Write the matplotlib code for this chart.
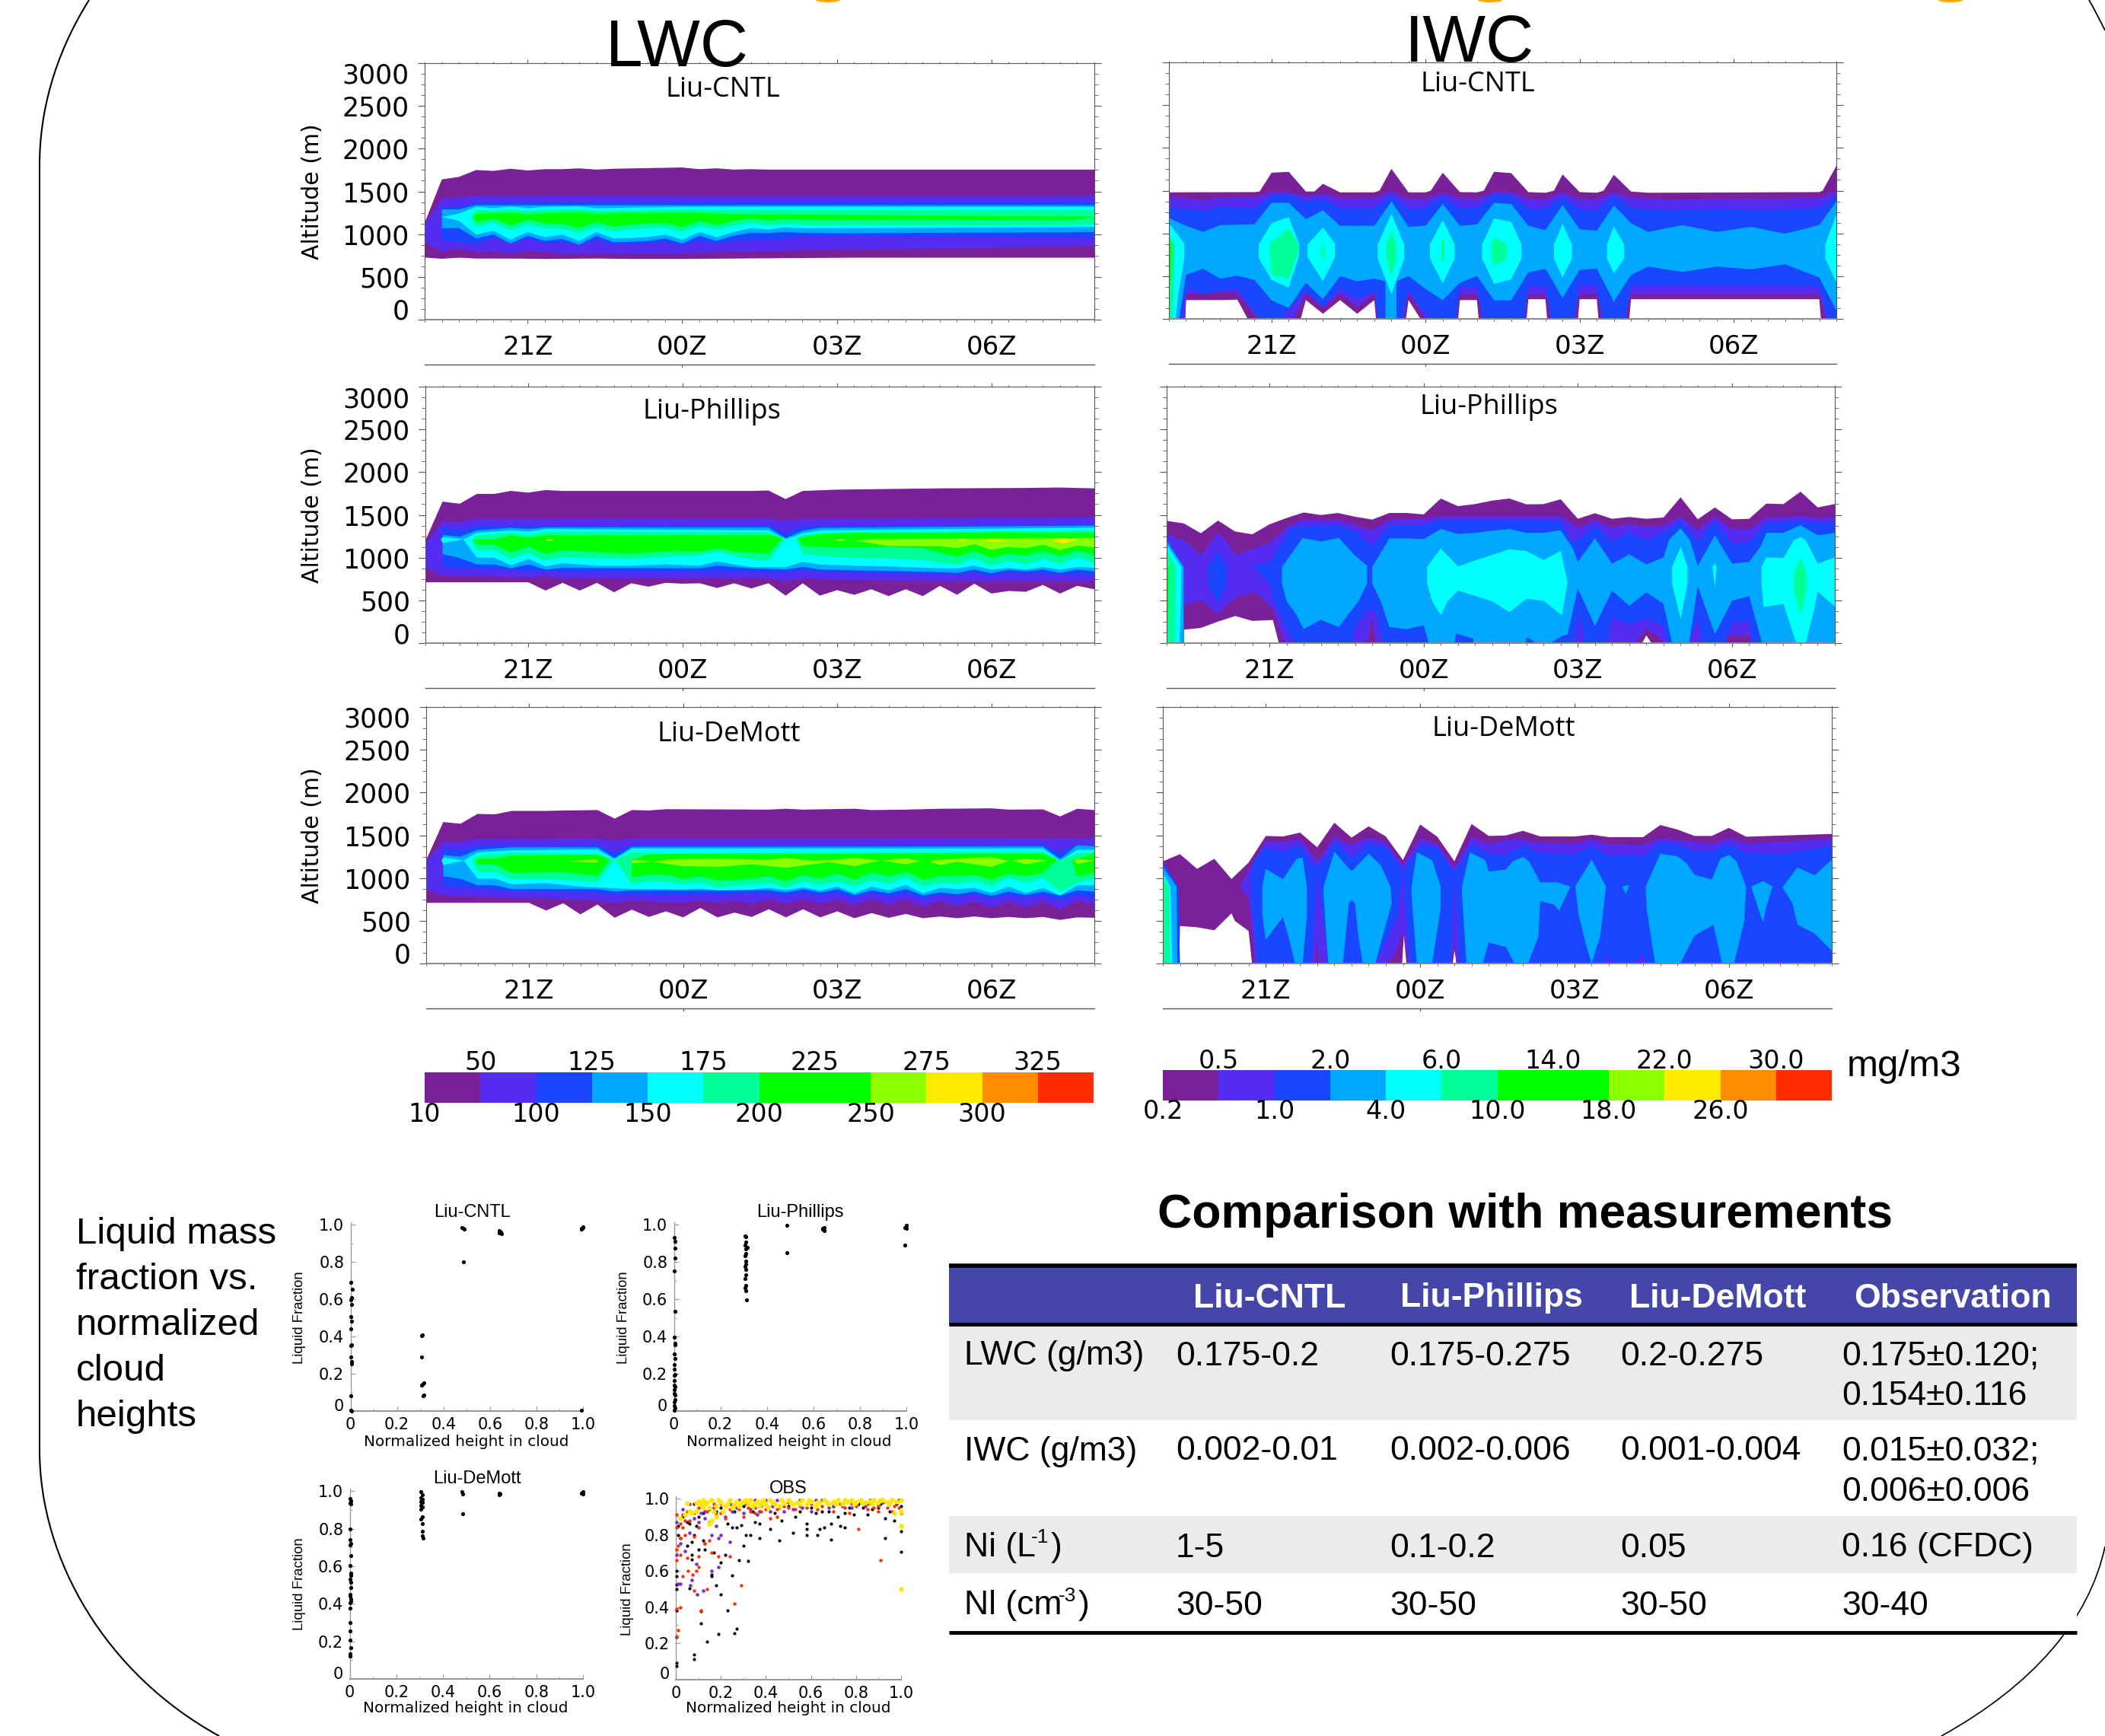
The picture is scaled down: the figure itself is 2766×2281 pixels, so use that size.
import numpy as np
import matplotlib
matplotlib.use("Agg")
import matplotlib.pyplot as plt
from matplotlib.colors import ListedColormap
from matplotlib.path import Path
from matplotlib.patches import PathPatch, Rectangle, Ellipse

W, H = 2766, 2281
SANS = 'Liberation Sans'
WIDE = 'DejaVu Sans'
HUMAN = 'Open Sans'

COLORS = ['#7A2098', '#552DF0', '#1946FF', '#00A8FF', '#00FFFF', '#00FF96',
          '#00FF00', '#00FF00', '#8CFF00', '#FFEB00', '#FF8C00', '#FF2D00']
LWC_BOTTOM_LABELS = ['10', '100', '150', '200', '250', '300']
LWC_TOP_LABELS = ['50', '125', '175', '225', '275', '325']
IWC_BOTTOM_LABELS = ['0.2', '1.0', '4.0', '10.0', '18.0', '26.0']
IWC_TOP_LABELS = ['0.5', '2.0', '6.0', '14.0', '22.0', '30.0']
TIME_LABELS = ['21Z', '00Z', '03Z', '06Z']
TIME_COLUMNS = [6, 15, 24, 33]   # 20-min model output columns, 19Z = column 0
ALT_TICKS = [0, 500, 1000, 1500, 2000, 2500, 3000]


def col(start, *vals):
    return [(start + k, v) for k, v in enumerate(vals)]


def band(level, top, bot):
    return (level, top + bot[::-1])


# ---------- LWC contour regions: (column, altitude m) ----------
LWC_CNTL = [
    band(0, [(0, 1130)] + col(1, 1640, 1670, 1750, 1740, 1765, 1745, 1760, 1760, 1770, 1755, 1765) + [(15, 1780), (16, 1760), (17, 1770), (18, 1755), (19, 1760), (20, 1755), (39, 1755)],
         [(0, 727), (1, 712), (2, 725), (3, 715), (5, 715), (7, 710), (10, 715), (12, 710), (15, 710), (18, 715), (25, 725), (39, 725)]),
    band(1, [(0, 1110), (1, 1415), (2, 1425), (3, 1450), (39, 1450)],
         [(0, 905), (1, 800), (2, 830), (3, 790), (4, 800), (5, 770), (6, 800), (7, 790), (8, 770), (12, 770), (15, 770), (17, 790), (20, 800), (22, 815), (30, 830), (39, 865)]),
    band(2, [(1, 1310), (2, 1320), (3, 1375), (39, 1380)],
         [(1, 935), (2, 905), (3, 875), (4, 960), (5, 885), (6, 950), (7, 890), (8, 905), (9, 875), (10, 935), (11, 885), (13, 890), (14, 905), (15, 875), (16, 920), (17, 890), (18, 920), (21, 950), (22, 979), (24, 980), (39, 964)]),
    band(3, [(1, 1290), (2, 1290), (3, 1340), (39, 1340)],
         [(1, 1070), (2, 1070)] + col(3, 950, 995, 890, 980, 920, 945, 875, 980, 905, 910, 920, 950, 890, 980, 920, 980, 1015, 1010, 1025, 1015) + [(24, 1010), (39, 1025)]),
    band(4, [(1, 1200), (2, 1240), (3, 1320), (4, 1305), (5, 1325), (6, 1305), (7, 1320), (9, 1325), (10, 1305), (15, 1320), (39, 1320)],
         [(1, 1200), (2, 1157)] + col(3, 995, 1040, 935, 1025, 965, 995, 920, 1025, 950, 955, 965, 995, 935, 1025, 965, 1025, 1070, 1055, 1080, 1070) + [(24, 1070), (39, 1085)]),
    band(5, [(2.7, 1200), (3, 1290), (4, 1270), (5, 1290), (6, 1270), (7, 1285), (9, 1290), (10, 1270), (15, 1285), (39, 1280)],
         [(2.7, 1200)] + col(3, 1085, 1135, 1045, 1110, 1070, 1065, 1015, 1085, 1030, 1055, 1070, 1075, 1025, 1100, 1055, 1100, 1130, 1105, 1120, 1110) + [(24, 1110), (39, 1110)]),
    band(6, [(2.8, 1200), (3, 1240), (5, 1250), (6, 1235), (7, 1245), (9, 1260), (10, 1240), (15, 1255), (18, 1235), (24, 1225), (39, 1205)],
         [(2.8, 1200)] + col(3, 1140, 1185, 1100, 1170, 1125, 1120, 1075, 1140, 1090, 1110, 1125, 1130, 1080, 1155, 1110, 1155, 1185, 1160, 1180, 1170) + [(24, 1170), (38, 1170), (39, 1200)]),
]

LWC_PHILLIPS = [
    band(0, col(0, 1200, 1655, 1630, 1745, 1745, 1780, 1760, 1790, 1780) + [(19, 1780), (20, 1785), (21, 1685), (22, 1780), (24, 1795), (30, 1810), (35, 1815), (37, 1820), (39, 1810)],
         col(0, 712) + [(6, 712)] + col(7, 615, 705, 615, 705, 595, 700, 660, 705, 695, 700, 645, 700, 640, 700, 555, 700, 555, 620, 565, 630, 550, 630, 550, 670, 565, 695, 580, 610, 600, 680, 580, 670, 630)),
    band(1, [(0, 1150), (1, 1425), (2, 1415), (3, 1455), (20, 1460), (21, 1430), (22, 1455), (39, 1470)],
         [(0, 885), (1, 790), (3, 785), (6, 770), (7, 785), (8, 755), (20, 755), (21, 725), (22, 755), (24, 740), (30, 725), (39, 725)]),
    band(2, [(1, 1350), (2, 1320), (3, 1370), (20, 1380), (21, 1275), (22, 1370), (39, 1395)],
         [(1, 890), (2, 875), (3, 870), (5, 860), (6, 835), (7, 850), (8, 830), (20, 830), (21, 825), (22, 850), (23, 830), (30, 810), (31, 800), (32, 825), (33, 790), (34, 820), (39, 800)]),
    band(3, [(1, 1265), (2, 1245), (3, 1320), (5, 1350), (6, 1335), (7, 1355), (20, 1355), (21, 1230), (22, 1315), (23, 1350), (39, 1375)],
         col(1, 1040, 995, 920, 920, 875, 920, 860, 880) + [(16, 875), (17, 905), (18, 890), (19, 875), (21, 860), (22, 890), (23, 860)] + col(30, 830, 820, 860, 815, 860, 840, 860, 820, 860, 840)),
    band(4, [(2.2, 1215), (3, 1290), (5, 1320), (6, 1305), (7, 1335), (20, 1320), (21, 1215), (22, 1285), (23, 1320), (39, 1350)],
         [(2.2, 1215), (3, 1000), (4, 1000), (5, 910), (6, 985), (7, 895), (8, 935), (10, 905), (12, 905), (14, 920), (16, 905), (17, 955), (18, 920), (19, 890), (21, 890), (22, 950), (23, 920), (25, 905), (28, 890), (30, 875), (31, 875), (32, 905), (33, 860), (34, 880), (35, 860), (36, 890), (37, 860), (38, 890), (39, 880)]),
    (4, [(0.9, 1215), (1, 1240), (2.2, 1215), (1, 1170)]),
    band(5, [(2.7, 1205), (3, 1260), (5, 1290), (6, 1265), (7, 1305), (20, 1295), (21, 1225)],
         [(2.7, 1205), (3, 1085), (4, 1085), (5, 985), (6, 1055), (7, 965), (8, 1005), (12, 985), (14, 1010), (16, 1025), (17, 1070), (19, 980), (20, 960), (21, 1225)]),
    band(5, [(21.6, 1225), (22, 1265), (24, 1290), (39, 1320)],
         [(21.6, 1225), (22, 1040), (23, 1020), (25, 1000), (27, 990), (29, 970), (31, 920), (32, 995), (33, 905), (34, 965), (35, 920), (36, 985), (37, 930), (38, 1005), (39, 935)]),
    band(6, [(2.8, 1205), (3, 1215), (4, 1215), (5, 1260), (6, 1235), (7, 1260), (12, 1260), (20, 1265), (20.8, 1230)],
         [(2.8, 1205), (3, 1155), (4, 1155), (5, 1060), (6, 1130), (7, 1040), (8, 1085), (12, 1045), (14, 1075), (16, 1070), (17, 1110), (18, 1070), (20, 1045), (20.8, 1230)]),
    band(6, [(21.7, 1225), (23, 1275), (25, 1290), (39, 1290)],
         [(21.7, 1225), (22, 1140), (23, 1125), (25, 1120), (27, 1125), (29, 1110), (31, 1010), (32, 1080), (33, 995), (34, 1045), (35, 1025), (36, 1075), (37, 1015), (38, 1085), (39, 1025)]),
    band(8, [(25, 1200), (26, 1215), (39, 1230)],
         [(25, 1200), (27, 1135), (30, 1135), (31, 1110), (32, 1155), (33, 1090), (34, 1125), (35, 1110), (36, 1150), (37, 1090), (38, 1140), (39, 1120)]),
    (9, [(32.5, 1200), (33, 1215), (34, 1205), (33.3, 1185)]),
    (9, [(36.5, 1205), (37, 1225), (38, 1210), (37.2, 1165)]),
    (9, [(7, 1205), (7.2, 1215), (7.5, 1205), (7.2, 1195)]),
    (9, [(23.7, 1205), (24.2, 1215), (24.7, 1205), (24.2, 1198)]),
    (9, [(31, 1205), (31.3, 1215), (31.6, 1205), (31.3, 1195)]),
]

LWC_DEMOTT = [
    band(0, col(0, 1210, 1655, 1635, 1750, 1745, 1785, 1785, 1785, 1790, 1792, 1795, 1695, 1795, 1790, 1805) + [(20, 1800), (21, 1810), (22, 1800), (25, 1810), (26, 1795), (28, 1800), (30, 1810), (33, 1815), (34, 1800), (36, 1803), (37, 1720), (38, 1810), (39, 1795)],
         col(0, 710) + [(6, 710)] + col(7, 620, 705, 575, 690, 535, 630, 545, 610, 540, 650, 540, 595, 545, 635, 540, 635, 540, 610, 530, 590, 535, 580, 530, 550, 530, 550, 530, 545, 530, 545, 510, 540, 535)),
    band(1, [(0, 1190), (1, 1430), (2, 1420), (3, 1460), (10, 1465), (11, 1435), (12, 1465), (39, 1465)],
         [(0, 860), (1, 795), (3, 780), (6, 760), (7, 760), (10, 735), (11, 705), (12, 735), (14, 715), (15, 715), (16, 735), (17, 715), (18, 735), (19, 705), (20, 750), (21, 700), (22, 750), (23, 700), (24, 745), (25, 685), (26, 750), (27, 695), (28, 750), (29, 670), (30, 730), (31, 670), (32, 725), (33, 650), (34, 725), (35, 660), (36, 725), (37, 630), (38, 735), (39, 685)]),
    band(2, [(1, 1345), (2, 1330), (3, 1375), (10, 1385), (11, 1300), (12, 1385), (36, 1390), (37, 1300), (38, 1395), (39, 1375)],
         [(1, 900), (2, 890), (3, 870), (6, 840), (10, 825), (11, 800), (12, 810), (14, 800), (20, 820), (21, 795), (22, 825), (23, 795), (24, 825), (25, 770), (26, 825), (27, 790), (28, 825), (29, 760), (30, 810), (31, 780), (32, 810), (33, 760), (34, 800), (35, 770), (36, 800), (37, 740), (38, 800), (39, 770)]),
    band(3, [(1, 1270), (2, 1250), (3, 1330), (5, 1360), (10, 1360), (11, 1235), (12, 1365), (36, 1370), (37, 1225), (38, 1385), (39, 1370)],
         [(1, 1020), (2, 990), (3, 915), (4, 915), (5, 870), (10, 870), (11, 840), (12, 855), (20, 860), (21, 830), (22, 870), (23, 830), (24, 870), (25, 800), (26, 855), (27, 820), (28, 870), (29, 795), (30, 830), (31, 810), (32, 840), (33, 790), (34, 840), (35, 800), (36, 840), (37, 795), (38, 855), (39, 840)]),
    (4, [(0.9, 1205), (1, 1240), (2.2, 1205), (1, 1150)]),
    band(4, [(2.2, 1205), (3, 1300), (5, 1325), (10, 1335), (11, 1220), (12, 1345), (36, 1345), (37, 1205), (38, 1330), (39, 1330)],
         [(2.2, 1205), (3, 990), (4, 995), (5, 925), (6, 935), (7, 940), (9, 900), (10, 890), (12, 870), (14, 870), (15, 865), (16, 875), (17, 855), (18, 860), (19, 865), (20, 885), (21, 860), (22, 890), (23, 855), (24, 900), (25, 820), (26, 900), (27, 855), (28, 920), (29, 820), (30, 885), (31, 870), (32, 885), (33, 825), (34, 900), (35, 825), (36, 885), (37, 795), (38, 915), (39, 915)]),
    band(5, [(2.7, 1210), (3, 1265), (5, 1295), (10, 1280), (11, 1220)],
         [(2.7, 1210), (3, 1070), (4, 1070), (5, 990), (7, 990), (9, 970), (10, 950), (11, 1220)]),
    band(5, [(11, 1220), (12, 1300), (13, 1290), (36, 1305), (37, 1205), (38, 1290), (39, 1300)],
         [(11, 1220)] + col(12, 930, 965, 960, 930, 945, 890, 915, 925, 945, 885, 960, 915, 960, 900, 975, 930, 1005, 900, 945, 930, 970, 900, 1005, 940, 1005, 840, 945, 990)),
    band(6, [(2.9, 1210), (3, 1225), (4, 1225), (5, 1265), (10, 1275), (10.7, 1210)],
         [(2.9, 1210), (3, 1160), (4, 1160), (5, 1060), (8, 1070), (10, 1025), (10.7, 1210)]),
    band(6, [(12, 1210), (13, 1280), (36, 1285), (36.8, 1210)],
         [(12, 1210)] + col(12, 1005, 1040, 1040, 990, 1020, 970, 980, 995, 1020, 960, 1035, 995, 1050, 980, 1065, 1020, 1070, 980, 1020, 1020, 1035, 980, 1050, 1020, 1060) + [(36.8, 1210)]),
    (6, [(37.7, 1210), (38, 1225), (39, 1285), (39, 1060), (38, 1020)]),
    (8, [(8.2, 1195), (9.5, 1215), (10, 1215), (10, 1180)]),
    (8, [(12, 1210), (12.3, 1210), (13.2, 1195), (12, 1170)]),
    (8, [(13.2, 1195), (14.5, 1220), (17, 1225), (20, 1215), (21, 1235), (22.5, 1205), (24, 1215), (25, 1235), (26.5, 1205), (25, 1140), (23.5, 1185), (21, 1120), (19, 1160), (17, 1130), (15, 1140), (14, 1165)]),
    (8, [(26.6, 1205), (28, 1230), (28.9, 1200), (28, 1160)]),
    (8, [(29.3, 1200), (30, 1215), (33, 1245), (34, 1200), (33, 1130), (31, 1190), (30, 1150)]),
    (8, [(34.2, 1205), (35, 1225), (36.2, 1205), (35, 1160)]),
    (8, [(37.8, 1200), (38, 1225), (39, 1205), (38, 1165)]),
]

# ---------- IWC contour regions: (column, altitude m) ----------
IWC_CNTL = [
    (0, [(0, 1480), (5, 1483), (5.3, 1490), (6, 1710), (7, 1720), (8, 1490), (8.5, 1490), (9, 1580), (10, 1480), (12, 1480), (12.3, 1500), (13, 1755), (14, 1480), (15, 1480), (15.3, 1500), (16, 1710), (17, 1483), (18, 1480), (18.4, 1500), (19, 1720), (20, 1705), (21, 1483), (22, 1475), (22.5, 1500), (23, 1690), (24, 1483), (25, 1475), (25.4, 1500), (26, 1685), (27, 1490), (28, 1475), (38, 1483), (38.2, 1500), (39, 1790),
         (39, 0), (38.1, 0), (38, 230), (27, 230), (26.9, 0), (25.1, 0), (25, 230), (24, 230), (23.9, 0), (22.1, 0), (22, 230), (21, 230), (20.9, 0), (18.1, 0), (18, 220), (17, 220), (16.9, 0), (14.7, 0), (14, 220), (13.85, 0), (12.1, 0), (12, 220), (11, 60), (10, 220), (9, 60), (8, 220), (7.7, 0), (4.6, 0), (4, 225), (3, 220), (1, 220), (0.95, 0), (0, 0)]),
    (1, [(0, 1424), (2, 1389), (3, 1418), (5, 1418), (6, 1484), (7, 1484), (8, 1433), (9, 1463), (10, 1409), (12, 1409), (13, 1492), (14, 1403), (15, 1403), (16, 1478), (17, 1412), (18, 1403), (19, 1486), (20, 1478), (21, 1403), (22, 1397), (23, 1478), (24, 1403), (25, 1397), (26, 1478), (27, 1418), (29, 1397), (32, 1403), (35, 1403), (38, 1418), (39, 1492),
         (39, 0), (38.4, 0), (38, 290), (27, 290), (26.6, 0), (25.4, 0), (25, 295), (24, 295), (23.6, 0), (22.4, 0), (22, 290), (21, 290), (20.6, 0), (18.4, 0), (18, 290), (17, 290), (16.6, 0), (15, 0), (14, 300), (13.6, 0), (12.4, 0), (12, 300), (11, 140), (10, 300), (9, 130), (8, 300), (7.3, 0), (5.2, 0), (4, 300), (3, 310), (2, 295), (1, 290), (0.95, 0), (0, 0)]),
    (2, [(0, 1308), (2, 1264), (3, 1308), (5, 1294), (6, 1448), (7, 1454), (8, 1374), (9, 1403), (10, 1294), (12, 1294), (13, 1448), (14, 1285), (15, 1300), (16, 1433), (17, 1300), (18, 1300), (19, 1463), (20, 1448), (21, 1294), (22, 1285), (23, 1433), (24, 1285), (25, 1270), (26, 1448), (27, 1300), (29, 1270), (32, 1285), (35, 1270), (38, 1300), (39, 1448),
         (39, 0), (38.5, 0), (38, 380), (27, 385), (26.7, 0), (25.3, 0), (25, 395), (24, 395), (23.7, 0), (22.3, 0), (22, 380), (21, 380), (20.8, 0), (18.3, 0), (18, 365), (17, 365), (16.8, 0), (15.2, 0), (14, 335), (13.7, 0), (12.2, 0), (12, 320), (11, 230), (10, 350), (9, 140), (8, 320), (7.4, 200), (6.6, 0), (5.3, 0), (4, 350), (3, 330), (2, 290), (1.2, 360), (1, 300), (0.75, 0), (0, 0)]),
    (3, [(0, 1180), (1, 1090), (2, 1017), (3, 1097), (5, 1106), (6, 1358), (7, 1358), (8, 1166), (9, 1270), (10, 1090), (12, 1090), (13, 1374), (14, 1077), (15, 1090), (16, 1344), (17, 1090), (18, 1106), (19, 1358), (20, 1344), (21, 1090), (22, 1038), (23, 1335), (24, 1047), (25, 1032), (26, 1329), (27, 1121), (28, 1017), (30, 1097), (32, 1017), (34, 1077), (36, 997), (38, 1097), (39, 1374),
         (39, 100), (38, 484), (36, 638), (34, 579), (32, 611), (30, 549), (28, 611), (27, 513), (26, 202), (25, 587), (24, 573), (23, 246), (22, 587), (21, 543), (20, 217), (19, 217), (18, 500), (17, 424), (16, 217), (15, 350), (14, 500), (13.3, 440), (13.3, 0), (12.65, 0), (12.65, 440), (12, 470), (11, 440), (10, 500), (9, 230), (8, 424), (7, 128), (6, 217), (5, 455), (4, 505), (3, 470), (2, 587), (1, 515), (0.6, 0), (0, 0)]),
    (4, [(0, 1120), (0.9, 880), (0.9, 705), (0.55, 290), (0.4, 0), (0, 0)]),
    (4, [(5.25, 870), (6, 1120), (7, 1190), (7.6, 880), (7.6, 735), (7, 365), (6, 455), (5.25, 710)]),
    (4, [(8.1, 870), (9, 1070), (9.7, 880), (9.7, 720), (9, 440), (8.1, 720)]),
    (4, [(12.2, 870), (13, 1230), (13.75, 870), (13.75, 705), (13, 290), (12.2, 705)]),
    (4, [(15.25, 870), (16, 1157), (16.7, 870), (16.7, 705), (16, 415), (15.25, 705)]),
    (4, [(18.3, 870), (19, 1175), (20, 1135), (20.6, 870), (20.6, 705), (20, 463), (19, 410), (18.3, 705)]),
    (4, [(22.5, 870), (23, 1115), (23.55, 870), (23.55, 705), (23, 483), (22.5, 705)]),
    (4, [(25.6, 870), (26, 1083), (26.6, 870), (26.6, 705), (26, 534), (25.6, 705)]),
    (4, [(39, 1225), (38.35, 870), (38.35, 705), (39, 425)]),
    (5, [(0, 990), (0.35, 870), (0.35, 705), (0.2, 0), (0, 0)]),
    (5, [(5.9, 885), (7, 1060), (7.55, 880), (7.55, 765), (7, 470), (6, 520), (5.9, 770)]),
    (5, [(8.9, 790), (9, 900), (9.15, 790), (9, 660)]),
    (5, [(12.7, 870), (13, 1026), (13.3, 870), (13.3, 705), (13, 498), (12.7, 705)]),
    (5, [(15.9, 930), (16.1, 930), (16.1, 675), (15.9, 675)]),
    (5, [(18.85, 870), (19, 958), (19.75, 870), (19.75, 705), (19, 617), (18.85, 705)]),
    (6, [(0, 970), (0.15, 870), (0.1, 470), (0, 320)]),
]

IWC_PHILLIPS = [
    (0, col(0, 1430, 1400, 1285, 1433, 1305, 1273, 1389, 1463, 1528, 1498, 1522, 1478, 1445, 1522, 1522, 1505, 1691, 1602, 1626, 1667, 1691, 1623, 1626, 1682, 1454, 1519, 1454, 1475, 1454, 1469, 1706, 1448, 1587, 1448, 1454, 1632, 1626, 1771, 1587, 1626)
        + [(39, 0), (28.3, 0), (28, 90), (27.75, 0), (6.55, 0), (6.2, 270), (5, 260), (4, 317), (3, 252), (2, 178), (1, 157), (1, 0), (0, 0)]),
    (1, [(0, 1275), (1, 1207), (2, 1023), (3, 1290), (3.5, 1200), (4, 1030), (5, 1098), (6, 1172), (7, 1355), (8, 1445), (10, 1439), (12, 1320), (13, 1445), (15, 1454), (16, 1483), (20, 1483), (23, 1483), (24, 1350), (25, 1439), (26, 1350), (27, 1392), (28, 1356), (29, 1374), (30, 1483), (31, 1320), (32, 1483), (33, 1335), (34, 1335), (35, 1469), (36, 1469), (37, 1492), (38, 1463), (39, 1469),
         (39, 0), (34.1, 0), (34, 90), (32.8, 90), (32.6, 0), (29, 0), (28.9, 40), (28, 170), (27.5, 40), (27.4, 0), (12.2, 0), (12, 300), (11.7, 0), (6.9, 0), (6.2, 400), (5.2, 593), (5, 593), (4, 534), (3, 341), (2, 495), (1, 445), (0.95, 0), (0, 0)]),
    (2, [(2.4, 890), (3, 1077), (3.5, 890), (3.5, 697), (3, 466), (2.4, 697)]),
    (2, [(0, 1230), (1, 900), (1, 0), (0, 0)]),
    (2, [(5, 900), (6, 940), (7.3, 1365), (8, 1374), (10, 1380), (11, 1305), (12, 1136), (13, 1380), (15, 1380), (16, 1439), (20, 1439), (23, 1430), (23.7, 1172), (24, 1208), (25, 1380), (26, 1187), (27, 1290), (28, 1207), (29, 1290), (30, 1430), (31, 1202), (32, 1424), (33, 1163), (34, 1181), (35, 1409), (36, 1415), (37, 1440), (38, 1403), (39, 1409),
         (39, 0), (34.2, 0), (34, 250), (33, 250), (32.6, 0), (31.3, 0), (31, 280), (30.4, 0), (29.2, 0), (29, 210), (28, 282), (27, 222), (26, 300), (25.7, 0), (24.4, 0), (24.1, 326), (23.8, 0), (12.65, 0), (12.2, 380), (11.7, 390), (11, 180), (10.85, 0), (7.5, 0), (7.2, 100), (6.2, 520), (6, 700), (5, 900)]),
    (3, [(0, 1200), (1, 890), (1, 0), (0, 0)]),
    (3, [(6.73, 890), (7.94, 1231), (9, 1187), (10.04, 1231), (11, 1024), (11.7, 905), (11.7, 697), (11.2, 490), (10.04, 187), (9, 273), (8, 163), (7.54, 341), (7, 490), (6.73, 697)]),
    (3, [(12, 890), (13, 1225), (14, 1225), (15, 1216), (16, 1335), (17, 1276), (18, 1290), (19, 1314), (20, 1335), (21, 1290), (22, 1290), (23, 1320), (23.7, 1113), (24, 950), (25, 1225), (26, 929), (27, 1038), (28, 920), (29, 1003), (29.35, 1216), (30, 1344), (30.55, 1202), (31, 905), (32, 1261), (33, 929), (34, 950), (34.7, 1140), (35, 1290), (36, 1290), (37, 1380), (38, 1261), (39, 1290),
         (39, 0), (34.75, 0), (34, 549), (33, 495), (32, 104), (31, 667), (30.5, 0), (29.5, 0), (29, 460), (28, 593), (27, 436), (26, 614), (25, 199), (24, 640), (23.4, 100), (23.1, 85), (22.4, 0), (21.55, 0), (21.2, 50), (21, 68), (20.95, 0), (17.9, 0), (17.9, 50), (16.9, 113), (16.8, 0), (15.3, 0), (15, 208), (14, 163), (13, 187), (12.5, 490), (12, 697)]),
    (4, [(0, 1150), (0.85, 890), (0.85, 700), (0.75, 0), (0, 0)]),
    (4, [(15.2, 890), (16, 1107), (17, 899), (20, 1098), (21, 1077), (22, 970), (23, 1077), (23.4, 712), (23.07, 326), (22, 495), (21, 519), (20, 362), (19, 490), (17, 614), (16.4, 490), (16, 326), (15.5, 490), (15.2, 700)]),
    (4, [(29.5, 890), (30, 1127), (30.4, 890), (30.4, 697), (30, 282), (29.5, 697)]),
    (4, [(31.85, 890), (32, 935), (32.1, 890), (32, 655), (31.9, 800)]),
    (4, [(34.72, 890), (35, 1003), (36, 994), (36.6, 1202), (37, 1240), (37.3, 1202), (38, 929), (39, 1003), (39, 430), (38, 602), (37.8, 400), (37.3, 0), (36.75, 0), (36, 460), (34.85, 421), (34.72, 697)]),
    (5, [(0, 1100), (0.55, 890), (0.55, 700), (0.45, 0), (0, 0)]),
    (5, [(36.6, 815), (37, 1009), (37.35, 815), (37.35, 608), (37, 326), (36.6, 608)]),
    (6, [(0, 900), (0.12, 890), (0.08, 300), (0, 250)]),
]

IWC_DEMOTT = [
    (0, col(0, 1195, 1279, 1107, 1225, 988, 1181, 1492, 1486, 1531, 1359, 1647, 1472, 1605, 1486, 1210, 1626, 1483, 1196, 1632, 1492, 1498, 1552, 1486) + [(24, 1486), (25, 1507), (26, 1478), (28, 1478), (29, 1620), (30, 1567), (31, 1492), (32, 1492), (33, 1587), (34, 1483), (39, 1516),
         (39, 0), (17.15, 0), (17, 150), (16.9, 0), (14.2, 0), (14.05, 330), (13.95, 0), (5.2, 0), (5, 380), (4.2, 498), (4, 587), (3.6, 507), (3, 389), (2, 424), (1, 439), (0.95, 0), (0, 0)]),
    (1, [(4.5, 899), (5, 1092), (6, 1433), (7, 1418), (8, 1454), (9, 1196), (10, 1478), (11, 1389), (12, 1472), (13, 1418), (14, 1151), (15, 1472), (16, 1389), (17, 1122), (18, 1478), (19, 1394), (20, 1448), (21, 1448), (22, 1412), (24, 1403), (25, 1454), (26, 1394), (28, 1389), (29, 1469), (32, 1394), (33, 1472), (34, 1403), (39, 1454),
         (39, 0), (17.1, 0), (17, 250), (16.8, 0), (14.3, 0), (14, 380), (13.5, 90), (13, 0), (9.15, 0), (9, 250), (8.85, 0), (5.4, 0), (5, 750)]),
    (2, [(5.1, 1000), (5.3, 1210), (6, 1353), (7, 1308), (8, 1380), (8.9, 1122), (9.5, 1250), (10, 1433), (11, 1240), (12, 1403), (13, 1359), (13.8, 1151), (14, 1050), (14.2, 1151), (15, 1380), (16, 1359), (17, 1062), (18, 1389), (19, 1285), (20, 1270), (21, 1389), (22, 1290), (24, 1276), (25, 1374), (26, 1255), (27, 1270), (28, 1255), (29, 1418), (30, 1389), (31, 1314), (32, 1314), (33, 1397), (34, 1294), (36, 1276), (39, 1380),
         (39, 0), (36.2, 0), (36, 50), (35.9, 0), (28.2, 0), (28, 120), (27.5, 0), (26.4, 0), (26, 100), (25.8, 0), (17.3, 0), (17, 1060), (16.8, 0), (14.4, 0), (14, 1090), (13.7, 560), (13, 240), (12.4, 0), (9.65, 0), (9, 1050), (8.7, 0), (5.5, 0)]),
    (2, [(0, 1190), (0.9, 900), (1.0, 0), (0, 0)]),
    (3, [(0, 1130), (0.8, 900), (0.85, 0), (0, 0)]),
    (3, [(5.8, 900), (6, 1107), (7, 988), (7.8, 1225), (8.15, 1240), (8.4, 900), (8.4, 550), (8.15, 0), (7.7, 0), (7.4, 260), (7, 543), (6, 276), (5.8, 560)]),
    (3, [(9.37, 900), (10, 1308), (11, 1077), (12, 1285), (12.7, 1151), (13.27, 900), (13.35, 706), (12.65, 200), (12.4, 0), (11.65, 0), (11.4, 320), (11.2, 706), (11, 742), (10.85, 706), (10.5, 0), (9.64, 0), (9.37, 800)]),
    (3, [(14.5, 900), (14.8, 1300), (15.7, 1210), (16.2, 900), (16.2, 650), (15.7, 0), (14.8, 0), (14.5, 800)]),
    (3, [(17.44, 900), (17.9, 1300), (18.8, 1210), (19, 1077), (20, 1100), (20.4, 1196), (21, 1246), (21.35, 1196), (22, 950), (23, 950), (23.77, 900), (23.1, 617), (22.8, 691), (22, 730), (21.9, 320), (21.3, 0), (20.5, 0), (20, 193), (19, 246), (18.65, 0), (17.7, 0), (17.44, 800)]),
    (3, [(24.04, 900), (25, 1216), (25.84, 900), (25.5, 320), (25, 0), (24.7, 200), (24.25, 558)]),
    (3, [(26.8, 900), (27, 915), (27.2, 915), (27, 810)]),
    (3, [(28.15, 900), (29, 1285), (30, 1255), (30.5, 1181), (31, 1038), (32, 982), (32.5, 1225), (33, 1270), (33.45, 1196), (34, 900), (33.9, 498), (33.3, 0), (32.6, 0), (32.1, 454), (31, 326), (30.17, 0), (28.7, 0), (28.2, 645)]),
    (3, [(34.3, 900), (35, 964), (35.55, 900), (35.2, 676), (35, 484), (34.85, 558)]),
    (3, [(36.15, 900), (37, 1122), (38, 1032), (39, 1216), (39, 148), (38, 350), (37, 454), (36.7, 706), (36.15, 880)]),
    (4, [(0, 1050), (0.45, 900), (0.55, 0), (0, 0)]),
    (5, [(0, 1000), (0.35, 900), (0.4, 0), (0, 0)]),
]

# ---------- liquid-fraction scatter: normalized height, fraction ----------
CNTL_X = [.002, .007, .004, .002, .005, .0, .005, .0, .004, .002, .0, .005, .006, .002, .0, .004,
          .305, .31, .305, .305, .315, .31, .312, .315, .485, .49, .48, .485, .645, .64, .65, .64, 1.0, .995, 1.0, .995, .995]
CNTL_Y = [.69, .655, .61, .595, .57, .505, .48, .44, .355, .35, .29, .265, .255, .08, .005, .0,
          .405, .41, .29, .14, .15, .145, .08, .085, .98, .975, .985, .8, .96, .97, .95, .955, .99, .98, .985, .975, .005]
PHIL_X = [.0, .005, .004, .006, .0, .004, .0, .005, .006, .0, .005, .002, .0, .004, .0, .002, .0, .006, .002, .0, .005, .004, .0, .002, .005, .0,
          .305, .31, .31, .305, .315, .31, .31, .305, .31, .31, .305, .31, .31, .305, .31, .305, .31, .312, .485, .485, .64, .645, .64, .645, 1.0, .995, 1.0, .995]
PHIL_Y = [.93, .91, .875, .82, .75, .535, .395, .365, .355, .305, .28, .25, .225, .195, .19, .165, .14, .13, .115, .095, .085, .06, .05, .03, .015, .005,
          .94, .935, .905, .89, .88, .87, .845, .835, .805, .79, .775, .76, .73, .71, .675, .66, .645, .595, .995, .85, .98, .985, .975, .97, .995, .985, .98, .89]
DEM_X = [.002, .006, .0, .006, .002, .0, .004, .0, .004, .0, .004, .006, .0, .004, .004, .0, .002, .004, .006, .002, .0, .002, .0, .002, .004, .0, .002,
         .305, .31, .305, .31, .305, .31, .305, .31, .305, .31, .305, .31, .31, .31, .315, .48, .485, .485, .64, .645, .64, 1.0, .995, 1.0]
DEM_Y = [.96, .95, .935, .93, .80, .74, .72, .715, .655, .605, .565, .55, .53, .515, .485, .45, .44, .425, .415, .405, .375, .30, .255, .205, .165, .135, .12,
         .995, .98, .965, .955, .945, .94, .925, .915, .905, .865, .85, .825, .785, .76, .75, .995, .985, .88, .99, .985, .98, .995, .99, .985]

OBS_BLACK = [(.005, .075), (.005, .09), (.08, .11), (.08, .135), (.14, .21), (.19, .25), (.26, .255), (.27, .28), (.005, .235), (.11, .31), (.11, .375), (.23, .38), (.005, .38), (.2, .47), (.005, .5), (.06, .505), (.005, .525), (.005, .57), (.005, .6), (.18, .52), (.16, .58), (.16, .57), (.25, .575), (.2, .645), (.28, .66), (.32, .655), (.17, .7), (.1, .72), (.13, .72), (.13, .75), (.07, .76), (.22, .69), (.3, .74), (.05, .74), (.07, .665), (.07, .69), (1, .705), (1, .82), (.37, .78), (.46, .77), (.52, .81), (.58, .8), (.58, .83), (.63, .8), (.64, .83), (.66, .84), (.69, .775), (.69, .86), (.73, .85), (.75, .84), (.93, .78), (.97, .88), (.93, .89), (.33, .8), (.31, .8), (.25, .84), (.27, .84), (.29, .855), (.35, .87), (.37, .86), (.42, .83), (.47, .88), (.53, .9), (.58, .86), (.62, .92), (.68, .93), (.72, .9), (.79, .91), (.85, .91), (.9, .95), (.83, .95), (.77, .95), (.7, .96), (.6, .95), (.5, .96), (.4, .97), (.3, .96), (.2, .95), (.1, .9), (.15, .94), (.05, .87), (.12, .92), (.98, .97), (.99, .99), (1, .96), (.95, .93), (.23, .86), (.08, .8), (.02, .78), (.01, .8), (.06, .86), (.09, .85), (.12, .77),
             (.08, .97), (.18, .93), (.26, .93), (.34, .93), (.44, .92), (.55, .93), (.65, .93), (.75, .92), (.87, .94), (.95, .97), (.91, .97), (.81, .97), (.01, .85), (.03, .9)]
OBS_PURPLE = [(.005, .69), (.01, .53), (.02, .53), (.07, .55), (.065, .52), (.095, .47), (.12, .49), (.16, .6), (.19, .62), (.2, .8), (.24, .76), (.19, .78), (.16, .8), (.005, .87), (.02, .75), (.04, .71), (.09, .64), (.06, .81), (.1, .87), (.13, .89), (.18, .85), (.22, .9), (.25, .93), (.3, .92), (.33, .94), (.36, .91), (.38, .96), (.42, .93), (.46, .95), (.5, .98), (.55, .99), (.6, .98), (.65, .99), (.7, .98), (.75, .99), (.8, .97), (.86, .99), (.92, .98), (.03, .94), (.06, .97), (.13, .93), (.17, .95), (.24, .97), (.28, .99), (.35, .99), (.4, .99), (.45, .99), (.52, .94), (.58, .97), (.62, .99), (.7, .96), (.08, .89), (.11, .92),
              (.27, .95), (.31, .97), (.37, .93), (.43, .96), (.48, .93), (.56, .95), (.6, .93), (.68, .95), (.74, .96), (.78, .95), (.84, .96), (.9, .97)]
OBS_RED = [(.005, .24), (.01, .27), (.02, .4), (.005, .39), (.11, .38), (.26, .42), (.29, .52), (.08, .49), (.14, .5), (.055, .6), (.03, .57), (.09, .6), (.1, .62), (.075, .58), (.005, .66), (.005, .72), (.01, .74), (.02, .69), (.05, .67), (.1, .68), (.16, .7), (.19, .68), (.24, .68), (.13, .75), (.15, .77), (.02, .78), (.04, .8), (.08, .79), (.005, .84), (.03, .84), (.06, .88), (.1, .84), (.15, .87), (.005, .91), (.03, .91), (.05, .93), (.1, .95), (.2, .92), (.22, .89), (.3, .9), (.35, .92), (.4, .94), (.42, .89), (.45, .9), (.5, .95), (.55, .96), (.6, .97), (.65, .96), (.7, .93), (.75, .95), (.8, .96), (.85, .97), (.9, .96), (.97, .96), (1, .92), (.91, .66), (.81, .83), (.77, .92), (.63, .94), (.35, .95), (.12, .96), (.17, .97), (.25, .96), (.28, .94), (.45, .94), (.33, .93), (.2, .97), (.96, .93), (.9, .93), (.85, .94),
           (.1, .98), (.14, .93), (.18, .91), (.24, .94), (.32, .95), (.38, .93), (.48, .96), (.53, .94), (.58, .95), (.68, .97), (.73, .97), (.78, .97), (.88, .95), (.94, .95), (.99, .95), (.02, .86), (.04, .88), (.08, .92)]
OBS_YELLOW = [(1, .5), (1, .85), (1, .93), (.97, .92), (.15, .86), (.16, .88), (.18, .9), (.04, .91), (.07, .92), (.09, .93), (.13, .97), (.09, .975), (.1, .985), (.12, .95), (.14, .98), (.16, .99), (.18, .96), (.2, .98), (.22, .96), (.24, .99), (.26, .97), (.28, .96), (.3, .985), (.32, .97), (.34, .96), (.36, .985), (.38, .98), (.4, .97), (.42, .99), (.44, .97), (.46, .96), (.48, .975), (.5, .99), (.52, .97), (.54, .98), (.56, .99), (.58, .97), (.6, .985), (.62, .96), (.64, .98), (.66, .99), (.68, .97), (.7, .985), (.72, .99), (.74, .97), (.76, .985), (.78, .99), (.8, .98), (.82, .99), (.84, .98), (.86, .985), (.88, .99), (.9, .98), (.92, .99), (.94, .98), (.96, .99), (.98, .985), (1, .99), (.11, .97), (.15, .95), (.17, .93), (.21, .93), (.25, .95), (.29, .98), (.33, .99), (.37, .96), (.41, .95), (.02, .89), (.06, .93), (.05, .975),
              (.12, .99), (.19, .99), (.23, .97), (.27, .985), (.31, .99), (.35, .975), (.39, .99), (.43, .98), (.47, .99), (.51, .98), (.55, .97), (.59, .99), (.63, .98), (.67, .98), (.71, .97), (.75, .99), (.79, .97), (.83, .975), (.87, .97), (.91, .99), (.95, .975)]

# ---------- table ----------
TABLE_TITLE = 'Comparison with measurements'
TABLE_HEAD = ['Liu-CNTL', 'Liu-Phillips', 'Liu-DeMott', 'Observation']
TABLE_ROWS = [
    ['LWC (g/m3)', '0.175-0.2', '0.175-0.275', '0.2-0.275', '0.175\u00b10.120;\n0.154\u00b10.116'],
    ['IWC (g/m3)', '0.002-0.01', '0.002-0.006', '0.001-0.004', '0.015\u00b10.032;\n0.006\u00b10.006'],
    ['Ni (L', '1-5', '0.1-0.2', '0.05', '0.16 (CFDC)'],
    ['Nl (cm', '30-50', '30-50', '30-50', '30-40'],
]
SUPERSCRIPTS = [('-1', 1367, 2020, 1388, 2031), ('-3', 1403, 2097, 1424, 2107)]
SIDE_NOTE = ['Liquid mass', 'fraction vs.', 'normalized', 'cloud', 'heights']

fig = plt.figure(figsize=(W / 100, H / 100), dpi=100, facecolor='white')


def axpx(x0, y0, x1, y1, **kw):
    return fig.add_axes([x0 / W, 1 - y1 / H, (x1 - x0) / W, (y1 - y0) / H], **kw)


def T(x, y, s, **kw):
    kw.setdefault('ha', 'center')
    kw.setdefault('va', 'center')
    kw.setdefault('family', SANS)
    kw.setdefault('color', 'black')
    if kw['va'] == 'center' and 'rotation' not in kw:
        y = y + 3
    return fig.text(x / W, 1 - y / H, s, **kw)


# page layer: rounded slide frame and table blocks, pixel coordinates
bg = axpx(0, 0, W, H, zorder=-1)
bg.set_xlim(0, W)
bg.set_ylim(H, 0)
bg.axis('off')
C4, L2, M = Path.CURVE4, Path.LINETO, Path.MOVETO
left = Path([(117, 0), (70, 75), (52, 150), (52, 217), (52, 1905), (52, 2050), (140, 2200), (288, 2281)],
            [M, C4, C4, C4, L2, C4, C4, C4])
bg.add_patch(PathPatch(left, fc='none', ec='black', lw=1.5, zorder=1))
rb = Path([(2766, 2032), (2745, 2130), (2670, 2215), (2551, 2281)], [M, C4, C4, C4])
bg.add_patch(PathPatch(rb, fc='none', ec='black', lw=1.2, zorder=1))
rt = Path([(2745, 0), (2752, 12), (2760, 28), (2766, 40)], [M, C4, C4, C4])
bg.add_patch(PathPatch(rt, fc='none', ec='black', lw=1.3, zorder=1))
for ox in (1088, 1958, 2563):
    bg.add_patch(Ellipse((ox, 0), 32, 6, fc='#FFA500', ec='none', zorder=1))

TX0, TX1 = 1247, 2729
for y0, y1, c in [(1663, 1742, '#4447A8'), (1742, 1866, '#EBEBEB'), (1866, 1992, 'white'),
                  (1992, 2067, '#EBEBEB'), (2067, 2145, 'white')]:
    bg.add_patch(Rectangle((TX0, y0), TX1 - TX0, y1 - y0, fc=c, ec='none', zorder=2))
for y, lw in [(1663, 4), (1740, 3.5), (2145, 3.5)]:
    bg.plot([TX0, TX1], [y, y], color='black', lw=lw, solid_capstyle='butt', zorder=3)


def contour_panel(px, layers, title, title_xy, ylabels):
    x0, y0, x1, y1 = px
    ax = axpx(x0, y0, x1, y1)
    for lvl, pts in layers:
        xs, zs = zip(*pts)
        ax.fill(xs, zs, color=COLORS[lvl], lw=0)
    ax.set_xlim(0, 39)
    ax.set_ylim(0, 3000)
    ax.set_xticks(TIME_COLUMNS)
    ax.set_xticklabels(TIME_LABELS, family=WIDE, fontsize=24.5)
    ax.set_xticks(np.arange(0, 40), minor=True)
    ax.set_yticks(ALT_TICKS)
    ax.set_yticks(np.arange(0, 3001, 125), minor=True)
    if ylabels:
        ax.set_yticklabels([str(a) for a in ALT_TICKS], family=WIDE, fontsize=25)
        lab = ax.get_yticklabels()
        lab[0].set_va('baseline')
        lab[-1].set_va('top')
    else:
        ax.set_yticklabels([])
    ax.tick_params(axis='x', which='major', direction='out', top=True, length=3.6, width=0.8, color='#555555', pad=11)
    ax.tick_params(axis='x', which='minor', direction='out', top=True, length=1.8, width=0.6, color='#555555')
    ax.tick_params(axis='y', which='major', direction='out', right=True, length=6.5, width=0.8, color='#555555', pad=8)
    ax.tick_params(axis='y', which='minor', direction='out', right=True, length=3.5, width=0.6, color='#555555')
    for s in ax.spines.values():
        s.set_color('#555555')
        s.set_linewidth(0.8)
    ax.spines['bottom'].set_linewidth(1.4)
    ax.spines['bottom'].set_color('#888888')
    T(title_xy[0], title_xy[1], title, family=HUMAN, fontsize=26)
    # separate time rule below the labels
    yr = y1 + 59
    xm = x0 + (x1 - x0) * 15 / 39
    bg.plot([x0, x1], [yr, yr], color='#555555', lw=1.0, zorder=1)
    bg.plot([xm, xm], [yr, yr + 3], color='#555555', lw=0.8, zorder=1)
    if ylabels:
        T(410, (y0 + y1) / 2, 'Altitude (m)', family=WIDE, fontsize=21.5, rotation=90)
    return ax


contour_panel((558, 83, 1438, 420), LWC_CNTL, 'Liu-CNTL', (950, 115), True)
contour_panel((559, 508, 1438, 845), LWC_PHILLIPS, 'Liu-Phillips', (935, 538), True)
contour_panel((560, 929, 1438, 1266), LWC_DEMOTT, 'Liu-DeMott', (958, 962), True)
contour_panel((1536, 82, 2413, 419), IWC_CNTL, 'Liu-CNTL', (1942, 108), False)
contour_panel((1533, 508, 2411, 845), IWC_PHILLIPS, 'Liu-Phillips', (1956, 532), False)
contour_panel((1528, 929, 2407, 1266), IWC_DEMOTT, 'Liu-DeMott', (1976, 955), False)

T(890, 87, 'LWC', fontsize=63, va='baseline')
T(1931, 81, 'IWC', fontsize=63, va='baseline')


def colorbar(px, top_labels, bottom_labels, top_off, bot_off):
    ax = axpx(*px)
    ax.pcolormesh(np.arange(13), [0, 1], [np.arange(12)], cmap=ListedColormap(COLORS), vmin=0, vmax=11, shading='flat')
    ax.axis('off')
    tr = ax.get_xaxis_transform()
    for k, s in enumerate(bottom_labels):
        ax.text(2 * k, bot_off, s, transform=tr, ha='center', va='center', family=WIDE, fontsize=24, clip_on=False)
    for k, s in enumerate(top_labels):
        ax.text(2 * k + 1, top_off, s, transform=tr, ha='center', va='center', family=WIDE, fontsize=24, clip_on=False)


colorbar((558, 1409, 1437, 1449), LWC_TOP_LABELS, LWC_BOTTOM_LABELS, 1.30, -0.38)
colorbar((1528, 1406, 2407, 1446), IWC_TOP_LABELS, IWC_BOTTOM_LABELS, 1.30, -0.36)
T(2427, 1399, 'mg/m3', fontsize=35.5, ha='left')

for yy, s in zip([1618, 1678, 1738, 1798, 1858], SIDE_NOTE):
    T(100, yy, s, fontsize=35.5, ha='left')


def scatter_panel(px, series):
    ax = axpx(*px)
    for xs, ys, c, sz in series:
        ax.scatter(xs, ys, s=sz, c=c, lw=0, clip_on=False, zorder=3)
    ax.set_xlim(0, 1.0)
    ax.set_ylim(0, 1.013)
    for sp in ('top', 'right'):
        ax.spines[sp].set_visible(False)
    for sp in ('left', 'bottom'):
        ax.spines[sp].set_color('#999999')
    ax.spines['bottom'].set_linewidth(1.5)
    ax.spines['left'].set_linewidth(1.0)
    tk = [0, .2, .4, .6, .8, 1.0]
    tl = ['0', '0.2', '0.4', '0.6', '0.8', '1.0']
    ax.set_xticks(tk)
    ax.set_xticklabels(tl, family=WIDE, fontsize=15)
    ax.set_yticks(tk)
    ax.set_yticklabels(tl, family=WIDE, fontsize=15)
    ax.get_yticklabels()[0].set_va('baseline')
    ax.set_xticks(np.arange(0, 1.01, .1), minor=True)
    ax.set_yticks(np.arange(0, 1.01, .1), minor=True)
    ax.tick_params(which='major', direction='in', length=4, width=0.8, color='#999999')
    ax.tick_params(which='minor', direction='in', length=2, width=0.6, color='#999999')
    ax.tick_params(axis='x', which='major', pad=6)
    ax.tick_params(axis='y', which='major', pad=6)
    return ax


DOT = 14
scatter_panel((460.5, 1606, 766, 1854), [(CNTL_X, CNTL_Y, 'black', DOT)])
scatter_panel((885.5, 1606, 1191, 1854), [(PHIL_X, PHIL_Y, 'black', DOT)])
scatter_panel((459.5, 1956, 766, 2206), [(DEM_X, DEM_Y, 'black', DOT)])


def xy(seq):
    return [p[0] for p in seq], [p[1] for p in seq]


scatter_panel((888, 1966, 1184, 2206.5), [
    (*xy(OBS_BLACK), 'black', 9), (*xy(OBS_PURPLE), '#7A2FD0', 11),
    (*xy(OBS_RED), '#FF2D00', 10), (*xy(OBS_YELLOW), '#FFE800', 22)])

LABELS = [('Liu-CNTL', 621, 1592, 613, 1893, 394, 1731), ('Liu-Phillips', 1051, 1592, 1037, 1893, 819, 1731),
          ('Liu-DeMott', 627, 1942, 612, 2244, 393, 2081), ('OBS', 1036, 1955, 1036, 2244, 825, 2088)]
for name, tx, ty, xx, xyy, yx, yy in LABELS:
    T(tx, ty - 2, name, fontsize=17)
    T(xx, xyy - 2, 'Normalized height in cloud', family=WIDE, fontsize=14.4)
    T(yx, yy, 'Liquid Fraction', fontsize=13.4, rotation=90)

T(2004, 1593, TABLE_TITLE, fontsize=45, weight='bold')
for x, s in zip([1568, 1840, 2141, 2436], TABLE_HEAD):
    T(x, 1703, s, fontsize=32, weight='bold', color='white', ha='left')
COLX = [1267, 1545, 1826, 2129, 2420]
LINEY = [(1779, 1832), (1904, 1957), (2031,), (2107,)]
for row, ys in zip(TABLE_ROWS, LINEY):
    for x, cell in zip(COLX, row):
        for y, part in zip(ys, cell.split('\n')):
            T(x, y, part, fontsize=32, ha='left')
for sup, sx, sy, px_, py_ in SUPERSCRIPTS:
    T(sx, sy - 3, sup, fontsize=19)
    T(px_, py_, ')', fontsize=32)

fig.savefig('out.png', dpi=100)
